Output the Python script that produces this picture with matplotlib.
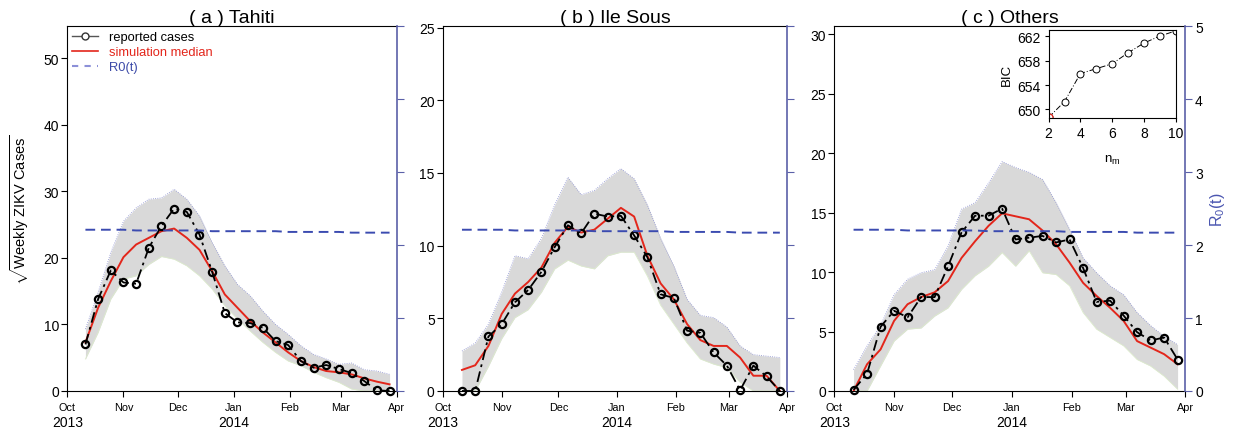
import numpy as np
import matplotlib
matplotlib.use('Agg')
import matplotlib.pyplot as plt
import matplotlib.dates as mdates
from matplotlib.lines import Line2D

plt.rcParams['font.family'] = ['Liberation Sans', 'DejaVu Sans']
plt.rcParams['mathtext.fontset'] = 'custom'
plt.rcParams['mathtext.rm'] = 'Liberation Sans'
plt.rcParams['mathtext.it'] = 'Liberation Sans:italic'

# weekly reporting dates
dates = np.arange(np.datetime64('2013-10-11'), np.datetime64('2014-03-30'), np.timedelta64(7, 'D'))

# (a) Tahiti
tahiti_reported = [7.0, 13.8, 18.1, 16.3, 16.1, 21.5, 24.8, 27.4, 26.9, 23.5, 17.9, 11.7, 10.3,
                   10.2, 9.5, 7.5, 6.9, 4.5, 3.5, 3.9, 3.3, 2.7, 1.5, 0.1, 0.0]
tahiti_median = [7.3, 12.5, 16.5, 20.1, 22.0, 23.0, 24.0, 24.4, 23.0, 21.2, 18.0, 14.5, 12.5,
                 10.5, 8.8, 7.3, 5.8, 4.5, 3.6, 3.0, 2.8, 2.5, 1.9, 1.4, 1.0]
tahiti_upper = [9.3, 14.8, 20.8, 25.5, 27.5, 28.8, 29.0, 30.3, 28.8, 26.3, 22.3, 18.8, 16.0,
                14.3, 12.0, 10.0, 8.5, 6.8, 5.5, 4.8, 4.0, 4.2, 3.2, 3.0, 2.5]
tahiti_lower = [4.8, 8.8, 13.8, 16.8, 17.3, 19.0, 20.2, 19.8, 18.8, 17.3, 15.3, 12.8, 10.8,
                9.0, 7.3, 5.8, 4.5, 3.8, 2.8, 2.0, 1.3, 0.3, 0.0, 0.0, 0.0]

# (b) Ile Sous
ile_reported = [0.0, 0.0, 3.75, 4.6, 6.1, 6.95, 8.2, 9.9, 11.4, 10.85, 12.2, 12.0, 12.05,
                10.7, 9.2, 6.65, 6.4, 4.15, 4.0, 2.65, 1.75, 0.05, 1.75, 1.0, 0.0]
ile_median = [1.45, 1.77, 3.1, 5.3, 6.7, 7.5, 8.5, 10.2, 11.3, 10.9, 11.1, 11.85, 12.6,
              12.0, 9.3, 7.4, 6.3, 4.6, 3.5, 3.1, 3.1, 2.3, 1.05, 1.05, 0.0]
ile_upper = [2.75, 3.3, 4.6, 6.8, 9.3, 9.1, 10.5, 12.8, 14.7, 13.5, 13.8, 14.6, 15.3,
             14.6, 12.8, 10.5, 8.6, 6.3, 5.2, 5.05, 4.4, 3.1, 2.5, 2.4, 2.3]
ile_lower = [0.0, 0.0, 1.7, 3.6, 5.05, 5.6, 6.8, 8.4, 9.0, 8.6, 8.4, 9.3, 9.55,
             9.55, 7.9, 5.9, 4.6, 3.3, 2.2, 1.85, 1.6, 0.6, 0.0, 0.0, 0.0]

# (c) Others
others_reported = [0.1, 1.45, 5.4, 6.75, 6.2, 7.9, 7.9, 10.5, 13.35, 14.75, 14.75, 15.35, 12.75,
                   12.9, 13.05, 12.5, 12.75, 10.35, 7.5, 7.6, 6.35, 4.95, 4.25, 4.5, 2.65]
others_median = [0.0, 2.25, 3.5, 5.9, 7.3, 7.9, 8.3, 9.25, 11.2, 12.6, 13.9, 14.95, 14.7,
                 14.45, 13.5, 12.35, 10.8, 9.1, 8.0, 7.0, 5.9, 4.2, 3.65, 3.1, 2.25]
others_upper = [1.8, 3.8, 5.5, 8.1, 9.4, 9.95, 10.2, 12.2, 15.3, 15.85, 17.5, 19.3, 18.8,
                18.4, 17.8, 15.85, 13.6, 11.2, 9.95, 8.85, 8.1, 6.6, 5.5, 4.6, 3.9]
others_lower = [0.0, 0.0, 2.1, 4.2, 5.2, 5.3, 6.3, 7.0, 8.55, 9.7, 10.5, 11.65, 10.5,
                11.8, 9.95, 9.8, 8.85, 6.6, 5.2, 4.5, 3.8, 2.65, 2.1, 1.25, 0.15]

# R0(t) (same shape in every panel)
r0 = [2.21, 2.21, 2.21, 2.21, 2.20, 2.20, 2.20, 2.20, 2.20, 2.20, 2.19, 2.19, 2.19,
      2.19, 2.19, 2.19, 2.18, 2.18, 2.18, 2.18, 2.18, 2.17, 2.17, 2.17, 2.17]

# inset: BIC vs number of modes
nm = [2, 3, 4, 5, 6, 7, 8, 9, 10]
bic = [648.7, 651.3, 655.9, 656.7, 657.5, 659.3, 660.9, 662.05, 662.9]

panels = [
    ('( a ) Tahiti', tahiti_reported, tahiti_median, tahiti_upper, tahiti_lower, 54.8, np.arange(0, 51, 10)),
    ('( b ) Ile Sous', ile_reported, ile_median, ile_upper, ile_lower, 25.1, np.arange(0, 26, 5)),
    ('( c ) Others', others_reported, others_median, others_upper, others_lower, 30.7, np.arange(0, 31, 5)),
]
lefts = [0.0543, 0.3573, 0.6728]
widths = [0.2657, 0.2777, 0.2831]

RED = '#e3261b'
BLUE = '#3b4bb0'
SPINE_BLUE = '#5b60a8'

fig = plt.figure(figsize=(12.4, 4.31), dpi=100)

for i, (title, rep, med, up, lo, ytop, yt) in enumerate(panels):
    ax = fig.add_axes([lefts[i], 0.0905, widths[i], 0.8465])

    ax.fill_between(dates, lo, up, color='#d9d9d9', lw=0)
    ax.plot(dates, up, color='#8a8fd0', lw=0.6, ls=':')
    ax.plot(dates, lo, color='#dcebcc', lw=0.6)
    ax.plot(dates, med, color=RED, lw=1.4)
    ax.plot(dates, rep, color='black', ls=(0, (6, 2.5, 1.5, 2.5)), lw=1.3,
            marker='o', ms=5.2, mfc='none', mec='black', mew=1.6, clip_on=False)

    ax.set_xlim(np.datetime64('2013-10-01'), np.datetime64('2014-04-01'))
    ax.set_ylim(0, ytop)
    ax.set_yticks(yt)
    ax.xaxis.set_major_locator(mdates.MonthLocator())
    ax.xaxis.set_major_formatter(mdates.DateFormatter('%b'))
    ax.tick_params(axis='x', labelsize=7.8, length=4, direction='out', pad=4)
    ax.tick_params(axis='y', labelsize=10, length=4, direction='out', pad=2)
    ax.spines['right'].set_visible(False)

    for yr, d in [('2013', '2013-10-01'), ('2014', '2014-01-01')]:
        ax.text(np.datetime64(d), -0.085, yr, transform=ax.get_xaxis_transform(),
                ha='center', va='center', fontsize=10)

    ax.set_title(title, fontsize=14, pad=1)

    ax2 = ax.twinx()
    ax2.plot(dates, r0, color=BLUE, ls=(0, (5, 3)), lw=1.4)
    ax2.set_ylim(0, 5)
    ax2.set_yticks(range(6))
    for s in ['left', 'top', 'bottom']:
        ax2.spines[s].set_visible(False)
    ax2.spines['right'].set_color(SPINE_BLUE)
    ax2.spines['right'].set_linewidth(1.2)
    ax2.tick_params(axis='y', colors=SPINE_BLUE, labelcolor='black', length=5,
                    labelsize=10, pad=2)
    if i < 2:
        ax2.set_yticklabels([])
    else:
        ax2.set_ylabel('R$_0$(t)', color='#4a55b0', fontsize=11.5, labelpad=4)

    if i == 0:
        ax.set_ylabel(r'$\sqrt{\mathrm{Weekly\ ZIKV\ Cases}}$', fontsize=10.5, labelpad=9)
        handles = [
            Line2D([], [], color='#555555', lw=1, marker='o', ms=5, mfc='white', mec='#333333'),
            Line2D([], [], color=RED, lw=1.2),
            Line2D([], [], color='#8c90d8', lw=1.5, ls=(0, (3, 3))),
        ]
        leg = ax.legend(handles, ['reported cases', 'simulation median', 'R0(t)'],
                        loc='upper left', frameon=False, fontsize=9.3, handlelength=2.0,
                        handletextpad=0.8, labelspacing=0.22, borderaxespad=0.1, borderpad=0.3)
        for txt, c in zip(leg.get_texts(), ['black', RED, '#3c4aa8']):
            txt.set_color(c)

# inset
axi = fig.add_axes([0.8457, 0.7239, 0.1024, 0.2049])
axi.plot(nm, bic, color='black', lw=0.7, ls=(0, (6, 2, 1, 2)),
         marker='o', ms=5, mfc='white', mec='black', mew=0.7)
axi.plot(nm[:1], bic[:1], ls='none', marker='o', ms=5, mfc='white', mec=RED, mew=0.9)
axi.set_xlim(2, 10)
axi.set_ylim(648.6, 663.1)
axi.set_xticks([2, 4, 6, 8, 10])
axi.set_yticks([650, 654, 658, 662])
axi.tick_params(labelsize=10, length=3, pad=3)
axi.set_ylabel('BIC', fontsize=9.5, labelpad=3)
axi.set_xlabel(r'n$_\mathrm{m}$', fontsize=9.5, labelpad=9)

fig.savefig('out.png', dpi=100)
